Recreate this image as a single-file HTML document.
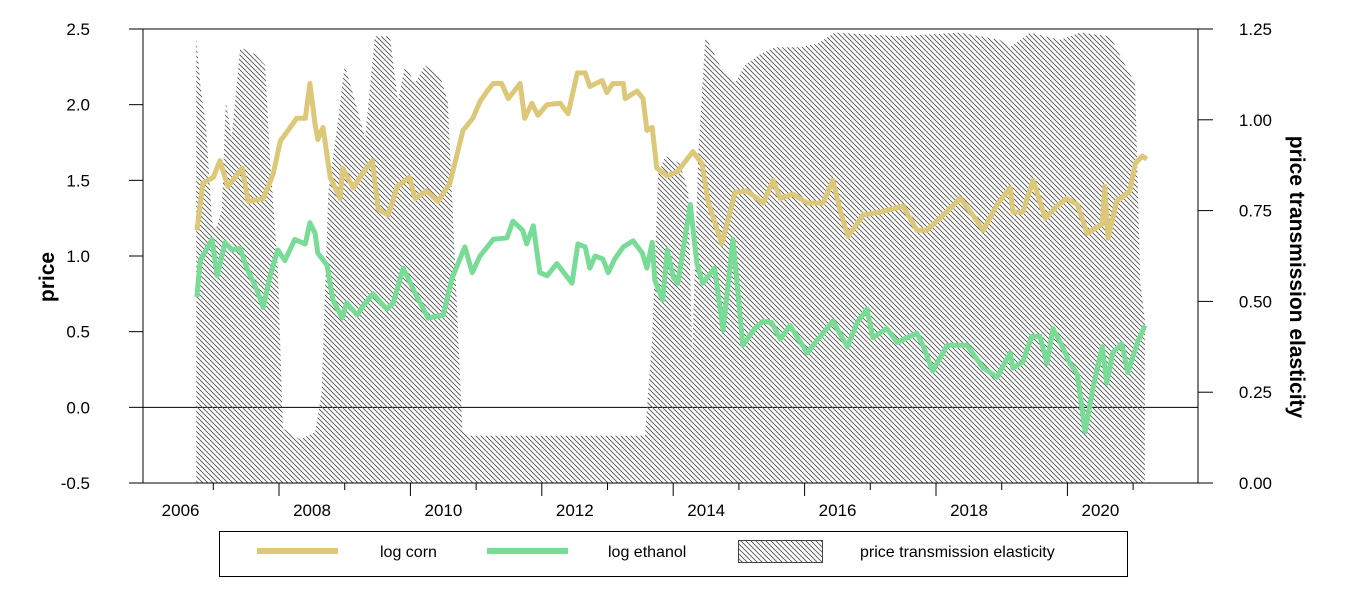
<!DOCTYPE html>
<html><head><meta charset="utf-8"><style>
html,body{margin:0;padding:0;background:#fff;}
svg{display:block;font-family:"Liberation Sans",Arial,sans-serif;}
</style></head><body>
<svg id="chart" width="1347" height="606" viewBox="0 0 1347 606">
<defs>
<pattern id="hatch" patternUnits="userSpaceOnUse" width="5" height="5">
<path d="M-1,-1 L6,6 M-1,4 L1,6 M4,-1 L6,1" stroke="#555" stroke-width="0.9"/>
</pattern>
</defs>
<g id="plot"></g>
</svg>
<script>
const cornDates=[2006.75,2006.84,2007.00,2007.10,2007.22,2007.44,2007.53,2007.76,2007.91,2008.02,2008.17,2008.27,2008.40,2008.47,2008.55,2008.59,2008.67,2008.78,2008.93,2008.97,2009.13,2009.26,2009.42,2009.51,2009.66,2009.80,2009.99,2010.07,2010.25,2010.42,2010.60,2010.71,2010.80,2010.95,2011.06,2011.17,2011.26,2011.39,2011.49,2011.67,2011.74,2011.85,2011.94,2012.08,2012.28,2012.40,2012.54,2012.66,2012.73,2012.92,2012.99,2013.08,2013.24,2013.27,2013.45,2013.54,2013.60,2013.68,2013.75,2013.91,2014.07,2014.30,2014.44,2014.53,2014.74,2014.94,2015.12,2015.37,2015.52,2015.63,2015.82,2016.04,2016.28,2016.43,2016.54,2016.66,2016.89,2017.15,2017.50,2017.71,2017.86,2018.06,2018.37,2018.56,2018.72,2018.93,2019.13,2019.17,2019.32,2019.48,2019.66,2019.84,2019.99,2020.15,2020.30,2020.53,2020.57,2020.62,2020.75,2020.95,2021.03,2021.14,2021.21];
const cornValues=[1.17,1.48,1.52,1.63,1.46,1.58,1.36,1.38,1.54,1.76,1.85,1.91,1.91,2.14,1.87,1.77,1.85,1.52,1.38,1.58,1.45,1.54,1.63,1.31,1.27,1.46,1.52,1.38,1.43,1.36,1.48,1.67,1.83,1.91,2.02,2.09,2.14,2.14,2.04,2.14,1.91,2.01,1.93,2.00,2.01,1.94,2.21,2.21,2.12,2.16,2.08,2.14,2.14,2.04,2.09,2.04,1.83,1.85,1.58,1.53,1.56,1.69,1.61,1.36,1.08,1.42,1.43,1.35,1.50,1.38,1.41,1.35,1.35,1.50,1.30,1.13,1.27,1.29,1.33,1.17,1.17,1.25,1.38,1.27,1.17,1.34,1.45,1.29,1.29,1.50,1.25,1.33,1.38,1.34,1.15,1.21,1.46,1.12,1.36,1.43,1.61,1.66,1.64];
const ethDates=[2006.75,2006.80,2006.98,2007.06,2007.18,2007.28,2007.41,2007.51,2007.67,2007.76,2007.86,2007.98,2008.09,2008.24,2008.40,2008.47,2008.55,2008.59,2008.73,2008.82,2008.96,2009.03,2009.19,2009.28,2009.43,2009.64,2009.74,2009.89,2010.10,2010.27,2010.50,2010.63,2010.83,2010.94,2011.06,2011.26,2011.47,2011.56,2011.71,2011.77,2011.87,2011.97,2012.08,2012.23,2012.46,2012.55,2012.66,2012.73,2012.81,2012.93,2013.01,2013.11,2013.24,2013.39,2013.53,2013.60,2013.68,2013.72,2013.84,2013.91,2014.00,2014.07,2014.26,2014.36,2014.45,2014.63,2014.76,2014.91,2015.06,2015.24,2015.37,2015.50,2015.63,2015.78,2016.04,2016.13,2016.43,2016.65,2016.80,2016.95,2017.04,2017.25,2017.41,2017.71,2017.80,2017.95,2018.17,2018.47,2018.72,2018.93,2019.13,2019.17,2019.32,2019.46,2019.58,2019.69,2019.78,2019.89,2020.04,2020.15,2020.27,2020.39,2020.53,2020.60,2020.69,2020.83,2020.92,2021.06,2021.18];
const ethValues=[0.73,0.97,1.11,0.87,1.09,1.04,1.05,0.92,0.77,0.66,0.86,1.04,0.97,1.11,1.08,1.22,1.15,1.02,0.94,0.71,0.59,0.69,0.61,0.67,0.75,0.65,0.69,0.92,0.73,0.59,0.61,0.85,1.06,0.89,1.00,1.11,1.12,1.23,1.17,1.08,1.20,0.89,0.87,0.95,0.82,1.08,1.06,0.92,1.00,0.98,0.89,0.98,1.06,1.10,1.02,0.92,1.09,0.84,0.71,1.04,0.86,0.82,1.34,0.95,0.82,0.92,0.51,1.11,0.41,0.52,0.57,0.56,0.45,0.54,0.36,0.41,0.57,0.40,0.56,0.65,0.46,0.52,0.43,0.49,0.41,0.24,0.41,0.41,0.26,0.20,0.36,0.26,0.30,0.47,0.47,0.29,0.52,0.43,0.29,0.22,-0.16,0.13,0.40,0.16,0.36,0.42,0.23,0.42,0.54];
const elasDates=[2006.74,2006.80,2006.89,2006.98,2007.04,2007.13,2007.19,2007.28,2007.41,2007.64,2007.79,2007.86,2007.98,2008.06,2008.32,2008.55,2008.65,2008.75,2008.90,2009.00,2009.16,2009.31,2009.46,2009.69,2009.81,2009.92,2010.07,2010.22,2010.45,2010.57,2010.68,2010.79,2010.91,2012.28,2013.57,2013.68,2013.77,2013.88,2014.10,2014.23,2014.29,2014.38,2014.49,2014.71,2014.94,2015.09,2015.32,2015.55,2015.93,2016.20,2016.46,2017.45,2018.37,2018.97,2019.13,2019.43,2019.89,2020.19,2020.65,2020.88,2021.03,2021.11,2021.18];
const elasValues=[1.23,1.10,0.98,0.72,0.70,0.75,1.05,0.95,1.20,1.18,1.15,0.90,0.60,0.15,0.12,0.14,0.25,0.80,1.00,1.15,1.05,0.95,1.23,1.23,1.05,1.15,1.10,1.15,1.12,1.05,0.60,0.15,0.13,0.13,0.13,0.40,0.85,0.90,0.88,0.80,0.35,0.90,1.23,1.15,1.10,1.15,1.18,1.20,1.20,1.21,1.24,1.23,1.24,1.22,1.20,1.24,1.22,1.24,1.23,1.15,1.10,0.55,0.45];
const leftTicks=[-0.5,0.0,0.5,1.0,1.5,2.0,2.5];
const leftTickLabels=["-0.5","0.0","0.5","1.0","1.5","2.0","2.5"];
const rightTicks=[0,0.25,0.5,0.75,1.0,1.25];
const rightTickLabels=["0.00","0.25","0.50","0.75","1.00","1.25"];
const yearLabels=[2006,2008,2010,2012,2014,2016,2018,2020];

const L=143,R=1198,T=29,B=483;
const xs=y=>279+(y-2008)*65.7;
const yl=v=>B-(v+0.5)/3*(B-T);
const yr=v=>B-v/1.25*(B-T);
const NS="http://www.w3.org/2000/svg";
const g=document.getElementById('plot');
function mk(tag,attrs,parent){const e=document.createElementNS(NS,tag);for(const k in attrs)e.setAttribute(k,attrs[k]);(parent||g).appendChild(e);return e;}

let zl=mk('line',{x1:L,x2:R,y1:yl(0),y2:yl(0),stroke:'#000','stroke-width':1});



let d='M'+xs(elasDates[0])+','+yr(0);
elasDates.forEach((t,i)=>{d+=' L'+xs(t).toFixed(1)+','+yr(elasValues[i]).toFixed(1);});
d+=' L'+xs(elasDates[elasDates.length-1])+','+yr(0)+' Z';
let area=mk('path',{d:d,fill:'url(#hatch)',stroke:'none'});



function line(dates,vals,color,name){
  let p='';dates.forEach((t,i)=>{p+=(i?' L':'M')+xs(t).toFixed(1)+','+yl(vals[i]).toFixed(1);});
  let e=mk('path',{d:p,fill:'none',stroke:color,'stroke-width':5,'stroke-linejoin':'round'});
  
  
}
line(cornDates,cornValues,'#dcc878','log-corn-line');
line(ethDates,ethValues,'#78dc96','log-ethanol-line');

let fr=mk('path',{d:`M${L},${B} L${L},${T} L${R},${T} L${R},${B} M${L},${B} L${R+15},${B}`,fill:'none',stroke:'#000','stroke-width':1});



leftTicks.forEach((v,i)=>{
  let tk=mk('line',{x1:L-14,x2:L,y1:yl(v),y2:yl(v),stroke:'#000'});
  
  
  let tx=mk('text',{x:L-53,y:yl(v)+6,'font-size':17,'text-anchor':'end'});
  tx.textContent=leftTickLabels[i];
  
  
});
rightTicks.forEach((v,i)=>{
  let tk=mk('line',{x1:R,x2:R+15,y1:yr(v),y2:yr(v),stroke:'#000'});
  
  
  let tx=mk('text',{x:1272,y:yr(v)+6,'font-size':17,'text-anchor':'end'});
  tx.textContent=rightTickLabels[i];
  
  
});
for(let yr0=2007;yr0<=2021;yr0++){
  const major=yr0%2===0;
  let tk=mk('line',{x1:xs(yr0),x2:xs(yr0),y1:B,y2:B+(major?13:7),stroke:'#000'});
  
  
}
yearLabels.forEach(y=>{
  let tx=mk('text',{x:xs(y)+33,y:516,'font-size':17,'text-anchor':'middle'});
  tx.textContent=y;
  
  
});
</script>
<svg style="position:absolute;left:0;top:0" width="1347" height="606">
<text x="54" y="277" font-size="21" font-weight="bold" text-anchor="middle" transform="rotate(-90 54 277)" font-family="Liberation Sans, Arial, sans-serif">price</text>
<text x="1290" y="277" font-size="21" font-weight="bold" text-anchor="middle" transform="rotate(90 1290 277)" font-family="Liberation Sans, Arial, sans-serif">price transmission elasticity</text>
<g font-family="Liberation Sans, Arial, sans-serif" font-size="16">
<rect x="219.5" y="531.5" width="908" height="45" fill="#fff" stroke="#000"/>
<line x1="257" x2="338" y1="551" y2="551" stroke="#dcc878" stroke-width="6"/>
<text x="380" y="557">log corn</text>
<line x1="487" x2="568" y1="551" y2="551" stroke="#78dc96" stroke-width="6"/>
<text x="608" y="557">log ethanol</text>
<rect x="738.5" y="540.5" width="84" height="22" fill="url(#hatch)" stroke="#444"/>
<text x="860" y="557">price transmission elasticity</text>
</g>
</svg>
</body></html>
